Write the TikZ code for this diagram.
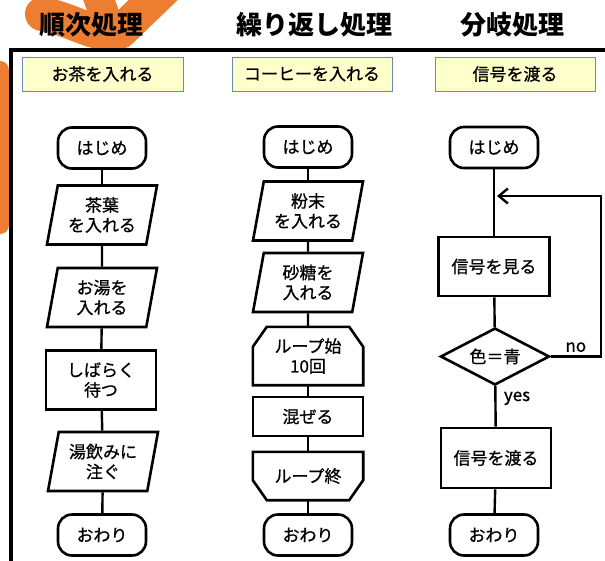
\documentclass[tikz,border=0pt]{standalone}
\usepackage{fontspec}
\setmainfont{Noto Sans CJK JP}
\newfontfamily\boxfont{Noto Sans CJK JP}[FakeBold=0.8]
\usepackage{xcolor}
\usepackage{tikz}
\usetikzlibrary{shapes.geometric, arrows.meta}
\usetikzlibrary{calc,positioning}

\definecolor{brush}{HTML}{ED7D31}
\definecolor{memo}{HTML}{FFFFCC}
\definecolor{memoline}{HTML}{6A8BB5}

\begin{document}
\begin{tikzpicture}[x=1pt,y=-1pt,
    font=\boxfont\fontsize{17}{20}\selectfont,
    box/.style={draw, line width=2.6pt, minimum width=110pt, minimum height=59pt, inner sep=2pt, align=center},
    term/.style={draw, line width=2.6pt, rounded corners=14pt, minimum width=88pt, minimum height=41pt},
    io/.style={draw, line width=2.6pt, trapezium, trapezium left angle=74, trapezium right angle=106,
        trapezium stretches body, minimum width=110pt, minimum height=59pt, inner sep=1pt, align=center},
    memo/.style={draw=memoline, line width=1pt, fill=memo, minimum width=160pt, minimum height=34pt},
    title/.style={font=\fontsize{26}{30}\selectfont\bfseries},
    link/.style={line width=2.4pt}]

    \useasboundingbox (0,0) rectangle (605,560);

    % Pinsel
    \draw[brush, line width=34pt, line cap=round, line join=round]
        (42,14) .. controls (70,18) and (100,40) .. (120,32) -- (174,-20);
    \draw[brush, line width=30pt] (92,-20) -- (108,25);
    \draw[brush, line width=18pt, line cap=round] (0,70) -- (0,225);

    % Rahmen
    \fill[white] (11,50) rectangle (605,560);
    \draw[line width=4pt] (11,562) |- (607,50);

    % Titel
    \node[title] (title1) at (91,25) {順次処理};
    \node[title] (title2) at (314,25) {繰り返し処理};
    \node[title] (title3) at (512,25) {分岐処理};

    % Aufgaben
    \node[memo, minimum width=161pt] (task1) at (102.5,74) {お茶を入れる};
    \node[memo] (task2) at (312,74) {コーヒーを入れる};
    \node[memo] (task3) at (515,74) {信号を渡る};

    % Spalte 1
    \node[term] (start1) at (102,148) {はじめ};
    \node[io] (leaf) at (102,215) {茶葉\\を入れる};
    \node[io] (water) at (102,297.5) {お湯を\\入れる};
    \node[box] (wait) at (101,380) {しばらく\\待つ};
    \node[io] (pour) at (103,461.5) {湯飲みに\\注ぐ};
    \node[term] (end1) at (102,535) {おわり};

    \draw[link] (start1) -- (leaf);
    \draw[link] (leaf) -- (water);
    \draw[link] (water) -- (wait);
    \draw[link] (wait) -- (pour);
    \draw[link] (pour) -- (end1);

    % Spalte 2
    \node[term] (start2) at (308,147) {はじめ};
    \node[io] (powder) at (308,211) {粉末\\を入れる};
    \node[io] (sugar) at (308,282.5) {砂糖を\\入れる};
    \node[minimum width=110pt, minimum height=58pt, align=center] (loopA) at (308,356) {ループ始\\10回};
    \draw[line width=2.6pt] ($(loopA.north west)+(0,20)$) -- ($(loopA.north west)+(14,0)$)
        -- ($(loopA.north east)+(-14,0)$) -- ($(loopA.north east)+(0,20)$)
        -- (loopA.south east) -- (loopA.south west) -- cycle;
    \node[box, minimum height=39pt] (mix) at (308,416.5) {混ぜる};
    \node[minimum width=110pt, minimum height=48pt] (loopB) at (308,476) {ループ終};
    \draw[line width=2.6pt] (loopB.north west) -- (loopB.north east)
        -- ($(loopB.south east)+(0,-20)$) -- ($(loopB.south east)+(-14,0)$)
        -- ($(loopB.south west)+(14,0)$) -- ($(loopB.south west)+(0,-20)$) -- cycle;
    \node[term] (end2) at (308,535) {おわり};

    \draw[link] (start2) -- (powder);
    \draw[link] (powder) -- (sugar);
    \draw[link] (sugar) -- (loopA);
    \draw[link] (loopA) -- (mix);
    \draw[link] (mix) -- (loopB);
    \draw[link] (loopB) -- (end2);

    % Spalte 3
    \node[term] (start3) at (494,147.5) {はじめ};
    \node[box, minimum width=111pt] (look) at (494,266.5) {信号を見る};
    \node[draw, line width=2.6pt, diamond, aspect=2, inner sep=0pt, minimum width=109pt, minimum height=57pt]
        (cond) at (495,356.5) {色＝青};
    \node[box, minimum height=60pt] (pass) at (496,458) {信号を渡る};
    \node[term] (end3) at (494,535) {おわり};
    \coordinate (back) at (497,196);

    \draw[link] (start3) -- (look);
    \draw[link] (look) -- (cond);
    \draw[link] (cond) -- node[pos=0.3, right=4pt] {yes} (pass);
    \draw[link] (pass) -- (end3);
    \draw[link, -{Straight Barb[length=9pt,width=15pt]}]
        (cond.east) -- node[above] {no} ++(50,0) |- (back);

\end{tikzpicture}
\end{document}
